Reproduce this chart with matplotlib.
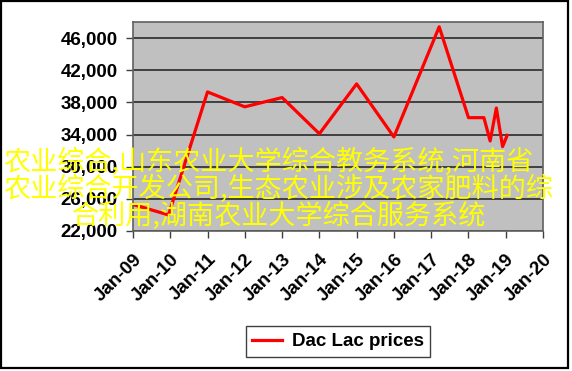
import matplotlib
matplotlib.use("Agg")
import matplotlib.pyplot as plt
import matplotlib.dates as mdates
from matplotlib.patches import Rectangle
from matplotlib.ticker import FuncFormatter
import datetime as dt

# ---- data ----
dates = ["2009-01-01", "2009-12-15", "2011-01-01", "2012-01-01", "2013-01-01",
         "2014-01-01", "2015-01-01", "2016-01-01", "2017-03-20", "2018-01-01",
         "2018-06-01", "2018-08-01", "2018-10-01", "2018-12-01", "2019-01-15"]
prices = [25300, 24000, 39300, 37450, 38600, 34100, 40300, 33700, 47400,
          36100, 36100, 33200, 37300, 32500, 33900]
series_label = "Dac Lac prices"
y_ticks = [22000, 26000, 30000, 34000, 38000, 42000, 46000]
overlay_lines = ["农业综合,山东农业大学综合教务系统,河南省",
                 "农业综合开发公司,生态农业涉及农家肥料的综",
                 "合利用,湖南农业大学综合服务系统"]

x = [dt.datetime.strptime(d, "%Y-%m-%d") for d in dates]

W, H = 572, 371
fig = plt.figure(figsize=(W / 100, H / 100), dpi=100)
fig.patch.set_facecolor("white")

ax = fig.add_axes([133 / W, 1 - 231 / H, (543 - 133) / W, (231 - 22) / H])
ax.set_facecolor("#C0C0C0")
line, = ax.plot(x, prices, color="#FF0000", lw=2.3, label=series_label, zorder=3)

ax.set_xlim(dt.datetime(2009, 1, 1), dt.datetime(2020, 1, 1))
ax.set_ylim(22000, 48000)
ax.set_yticks(y_ticks)
ax.yaxis.set_major_formatter(FuncFormatter(lambda v, p: f"{v:,.0f}"))
ax.xaxis.set_major_locator(mdates.YearLocator())
ax.xaxis.set_major_formatter(mdates.DateFormatter("%b-%y"))

ax.grid(axis="y", color="#404040", lw=1.4, zorder=1)
ax.set_axisbelow(True)
for s in ax.spines.values():
    s.set_color("#606060")
    s.set_linewidth(1.2)

font = "Liberation Sans"
ax.tick_params(axis="both", direction="out", length=5, width=1, color="#404040")
ax.tick_params(axis="x", pad=9)
ax.tick_params(axis="y", pad=6)
for lab in ax.get_yticklabels():
    lab.set_fontfamily(font); lab.set_fontweight("bold"); lab.set_fontsize(13.5)
for lab in ax.get_xticklabels():
    lab.set_fontfamily(font); lab.set_fontweight("bold"); lab.set_fontsize(13.5)
    lab.set_rotation(45); lab.set_ha("right"); lab.set_rotation_mode("anchor")

leg = fig.legend(handles=[line], loc="center", bbox_to_anchor=(338 / W, 1 - 341.5 / H),
                 prop={"family": font, "weight": "bold", "size": 13.5},
                 fancybox=False, edgecolor="#404040", framealpha=1,
                 handlelength=1.6, borderpad=0.35, handletextpad=0.5)
leg.get_frame().set_linewidth(1.0)

# outer border
fig.patches.append(Rectangle((1 / W, 1 - 368 / H), 567 / W, 367 / H,
                             transform=fig.transFigure, fill=False,
                             edgecolor="black", lw=1.6))

# yellow overlay text
fam = ["Noto Sans CJK SC", "DejaVu Sans"]
ys = [162, 189, 216]
xs = [3, 3, 72]
for t, yy, xx in zip(overlay_lines, ys, xs):
    fig.text(xx / W, 1 - yy / H, t, color="#FFFF00", fontsize=19.5,
             family=fam, ha="left", va="center", zorder=10)

fig.savefig("out.png", dpi=100)
